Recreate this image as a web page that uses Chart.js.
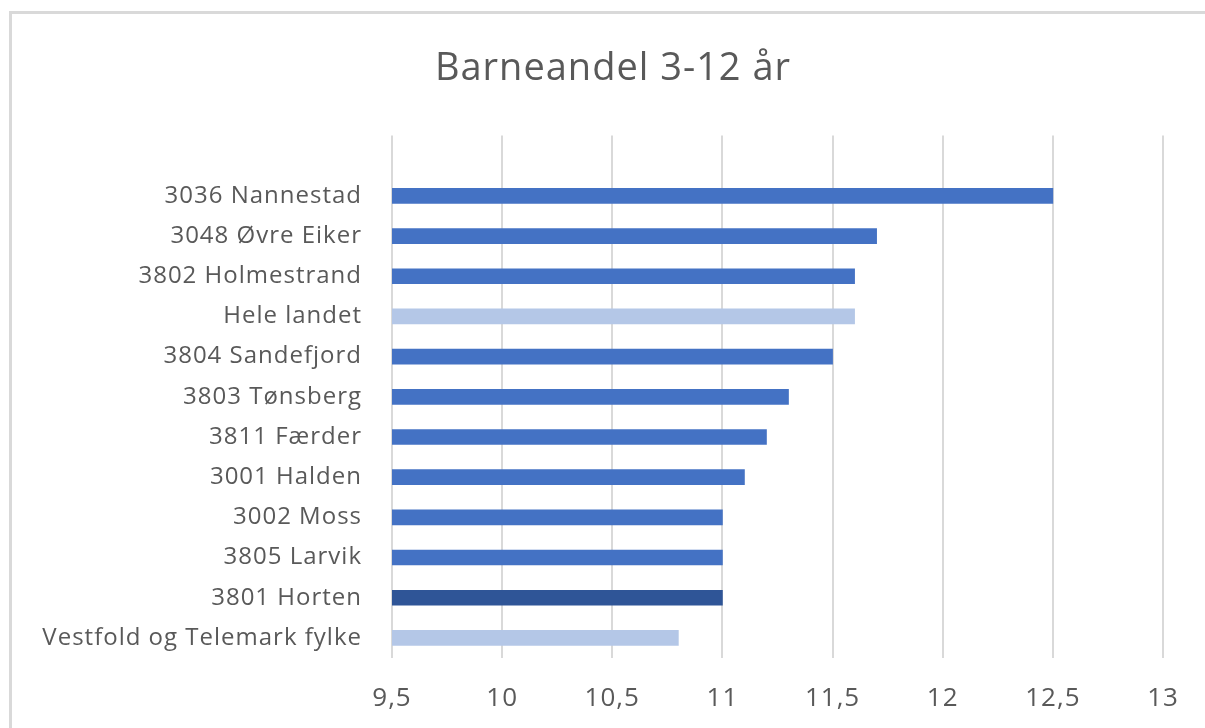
<!DOCTYPE html>
<html>
<head>
<meta charset="utf-8">
<script src="https://cdn.jsdelivr.net/npm/chart.js@4"></script>
<style>
  html, body { margin: 0; padding: 0; background: #fff; }
  #wrap { position: relative; width: 1205px; height: 728px; }
  #frame { position: absolute; left: 9px; top: 11px; right: 0; bottom: 0;
           border-left: 3px solid #d9d9d9; border-top: 3px solid #d9d9d9; }
  canvas { position: absolute; left: 0; top: 0; }
</style>
</head>
<body>
<div id="wrap">
  <div id="frame"></div>
  <canvas id="chart" width="1205" height="728"></canvas>
</div>
<script>
// kategorier (ovenfra og ned) og verdier; første rad er tom i kildediagrammet
const categories = [
  '', '3036 Nannestad', '3048 Øvre Eiker', '3802 Holmestrand', 'Hele landet',
  '3804 Sandefjord', '3803 Tønsberg', '3811 Færder', '3001 Halden',
  '3002 Moss', '3805 Larvik', '3801 Horten', 'Vestfold og Telemark fylke'
];
const values = [null, 12.5, 11.7, 11.6, 11.6, 11.5, 11.3, 11.2, 11.1, 11.0, 11.0, 11.0, 10.8];

const axisMin = 9.5;
const axisMax = 13;
const axisStep = 0.5;

// sammenligningsrader og utvalgt kommune
const referenceRows = ['Hele landet', 'Vestfold og Telemark fylke'];
const selectedRow = '3801 Horten';

const barColors = categories.map(c =>
  referenceRows.includes(c) ? '#b4c7e7' : (c === selectedRow ? '#2f5597' : '#4472c4'));

const fontFamily = '"Open Sans", Lato, sans-serif';

// litt luft mellom bokstavene, som i Excel-bildet,
// og la de lange kategorinavnene gå helt ut mot venstre kant
const tweaks = {
  id: 'tweaks',
  beforeLayout(chart) { chart.ctx.letterSpacing = '1px'; },
  afterLayout(chart) { chart.scales.y.left = 15; },
  beforeDraw(chart) { chart.ctx.letterSpacing = '1px'; }
};

new Chart(document.getElementById('chart'), {
  type: 'bar',
  data: {
    labels: categories,
    datasets: [{
      data: values,
      backgroundColor: barColors,
      barThickness: 15
    }]
  },
  plugins: [tweaks],
  options: {
    indexAxis: 'y',
    responsive: false,
    animation: false,
    layout: { padding: { left: 63, right: 42, top: 0, bottom: 0 } },
    plugins: {
      legend: { display: false },
      tooltip: { enabled: false },
      title: {
        display: true,
        text: 'Barneandel 3-12 år',
        color: '#595959',
        font: { family: fontFamily, size: 38, weight: 'normal' },
        padding: { top: 46, bottom: 44 }
      }
    },
    scales: {
      x: {
        min: axisMin,
        max: axisMax,
        grid: { color: '#d9d9d9', lineWidth: 2, drawTicks: false },
        border: { display: false },
        ticks: {
          stepSize: axisStep,
          color: '#595959',
          padding: 25,
          font: { family: fontFamily, size: 26 },
          callback: v => String(v).replace('.', ',')
        },
        afterFit: s => { s.height = 70; }
      },
      y: {
        grid: { display: false },
        border: { display: false },
        ticks: {
          color: '#595959',
          padding: 22,
          font: { family: fontFamily, size: 24 }
        },
        afterFit: s => { s.width = 329; }
      }
    }
  }
});
</script>
</body>
</html>
